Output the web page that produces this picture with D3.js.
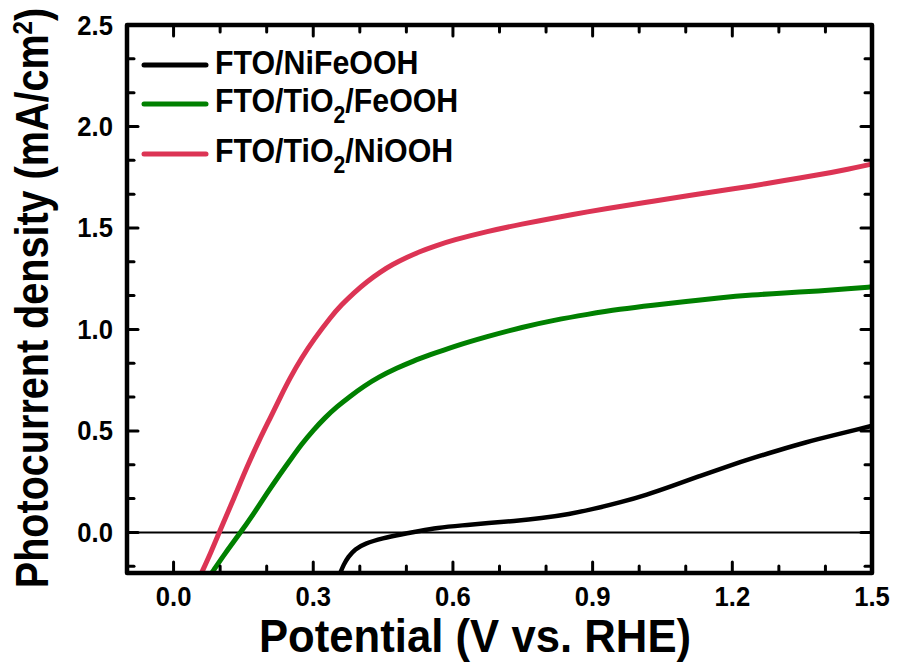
<!DOCTYPE html>
<html>
<head>
<meta charset="utf-8">
<script src="https://cdn.jsdelivr.net/npm/d3@7"></script>
<style>
  html, body { margin: 0; padding: 0; background: #fff; }
  svg { display: block; }
  text { font-family: "Liberation Sans", Arial, Helvetica, sans-serif; font-weight: bold; fill: #000; }
</style>
</head>
<body>
<svg id="chart" width="897" height="665"></svg>
<script>
// Photocurrent density vs. potential for three photoanodes
const seriesNames = ["FTO/NiFeOOH", "FTO/TiO2/FeOOH", "FTO/TiO2/NiOOH"];
const seriesColors = ["#000000", "#008000", "#DC3454"];

// FTO/NiFeOOH: [potential (V vs. RHE), current (mA/cm2)]
const niFeOOH = [
  [0.358,-0.2],[0.365,-0.16],[0.375,-0.12],[0.39,-0.082],[0.41,-0.055],[0.45,-0.028],
  [0.488,-0.01],[0.53,0.008],[0.564,0.022],[0.62,0.035],[0.677,0.046],[0.73,0.056],
  [0.79,0.07],[0.85,0.09],[0.903,0.116],[0.96,0.148],[1.017,0.186],[1.07,0.228],
  [1.13,0.278],[1.19,0.326],[1.243,0.366],[1.3,0.405],[1.356,0.443],[1.42,0.48],
  [1.477,0.512],[1.5,0.525]
];
// FTO/TiO2/FeOOH
const tiO2FeOOH = [
  [0.082,-0.2],[0.11,-0.105],[0.144,0.0],[0.17,0.085],[0.201,0.194],[0.225,0.275],
  [0.251,0.358],[0.275,0.435],[0.301,0.506],[0.325,0.565],[0.351,0.62],[0.38,0.672],
  [0.408,0.719],[0.44,0.765],[0.48,0.81],[0.515,0.845],[0.551,0.875],[0.6,0.915],
  [0.673,0.965],[0.75,1.012],[0.816,1.045],[0.89,1.075],[0.958,1.1],[1.03,1.12],
  [1.101,1.138],[1.17,1.155],[1.244,1.17],[1.31,1.18],[1.387,1.19],[1.45,1.2],[1.5,1.21]
];
// FTO/TiO2/NiOOH
const tiO2NiOOH = [
  [0.06,-0.2],[0.08,-0.1],[0.098,0.0],[0.13,0.17],[0.158,0.325],[0.185,0.46],
  [0.209,0.57],[0.23,0.67],[0.251,0.765],[0.275,0.86],[0.301,0.95],[0.337,1.06],
  [0.36,1.12],[0.387,1.18],[0.415,1.235],[0.444,1.283],[0.47,1.32],[0.501,1.355],
  [0.53,1.385],[0.56,1.41],[0.6,1.44],[0.673,1.483],[0.75,1.52],[0.816,1.549],
  [0.89,1.58],[0.958,1.606],[1.03,1.632],[1.101,1.658],[1.17,1.682],[1.244,1.707],
  [1.31,1.733],[1.387,1.762],[1.45,1.79],[1.5,1.815]
];

const xMajorTicks = [0.0, 0.3, 0.6, 0.9, 1.2, 1.5];
const xMinorTicks = [0.1, 0.2, 0.4, 0.5, 0.7, 0.8, 1.0, 1.1, 1.3, 1.4];
const yMajorTicks = [0.0, 0.5, 1.0, 1.5, 2.0, 2.5];
const yMinorTicks = [-1/6, 1/6, 2/6, 4/6, 5/6, 7/6, 8/6, 10/6, 11/6, 13/6, 14/6];

const svg = d3.select("#chart");
const box = { left: 127, right: 872, top: 25, bottom: 573 };

const x = d3.scaleLinear().domain([-0.1, 1.5]).range([box.left, box.right]);
const y = d3.scaleLinear().domain([-0.2, 2.5]).range([box.bottom, box.top]);

svg.append("defs").append("clipPath").attr("id", "plotClip")
  .append("rect")
  .attr("x", box.left).attr("y", box.top)
  .attr("width", box.right - box.left).attr("height", box.bottom - box.top);

const plot = svg.append("g").attr("clip-path", "url(#plotClip)");

// zero-current reference line
plot.append("line")
  .attr("x1", box.left).attr("x2", box.right)
  .attr("y1", y(0)).attr("y2", y(0))
  .attr("stroke", "#000").attr("stroke-width", 2);

const line = d3.line()
  .x(d => x(d[0])).y(d => y(d[1]))
  .curve(d3.curveBasis);

const allSeries = [niFeOOH, tiO2FeOOH, tiO2NiOOH];
// draw order: black, green, red
allSeries.forEach((data, i) => {
  plot.append("path")
    .datum(data)
    .attr("d", line)
    .attr("fill", "none")
    .attr("stroke", seriesColors[i])
    .attr("stroke-width", i === 0 ? 4.5 : 5)
    .attr("stroke-linejoin", "round")
    .attr("stroke-linecap", "butt");
});

// ticks on all four sides, pointing inward
const majorLen = 11, minorLen = 7;
const ticks = svg.append("g").attr("stroke", "#000").attr("stroke-width", 3).attr("stroke-linecap", "round");
function xTicks(vals, len) {
  vals.forEach(v => {
    ticks.append("line").attr("x1", x(v)).attr("x2", x(v)).attr("y1", box.bottom).attr("y2", box.bottom - len);
    ticks.append("line").attr("x1", x(v)).attr("x2", x(v)).attr("y1", box.top).attr("y2", box.top + len);
  });
}
function yTicks(vals, len) {
  vals.forEach(v => {
    ticks.append("line").attr("y1", y(v)).attr("y2", y(v)).attr("x1", box.left).attr("x2", box.left + len);
    ticks.append("line").attr("y1", y(v)).attr("y2", y(v)).attr("x1", box.right).attr("x2", box.right - len);
  });
}
xTicks(xMajorTicks, majorLen);
xTicks(xMinorTicks, minorLen);
yTicks(yMajorTicks, majorLen);
yTicks(yMinorTicks, minorLen);

// frame
svg.append("rect")
  .attr("x", box.left).attr("y", box.top)
  .attr("width", box.right - box.left).attr("height", box.bottom - box.top)
  .attr("fill", "none").attr("stroke", "#000").attr("stroke-width", 4.5)
  .attr("stroke-linejoin", "round");

// tick labels
const fmt = d3.format(".1f");
svg.append("g").selectAll("text").data(xMajorTicks).join("text")
  .attr("transform", d => `translate(${x(d)},606) scale(0.95,1)`)
  .attr("text-anchor", "middle")
  .style("font-size", "27px")
  .text(fmt);

svg.append("g").selectAll("text").data(yMajorTicks).join("text")
  .attr("transform", d => `translate(113,${y(d) + 9.5}) scale(0.95,1)`)
  .attr("text-anchor", "end")
  .style("font-size", "27px")
  .text(fmt);

// axis titles
svg.append("text")
  .attr("transform", "translate(475,652) scale(0.95,1)")
  .attr("text-anchor", "middle")
  .style("font-size", "46px")
  .text("Potential (V vs. RHE)");

const yTitle = svg.append("text")
  .attr("transform", "translate(48,298) rotate(-90) scale(0.86,1)")
  .attr("text-anchor", "middle")
  .style("font-size", "46px");
yTitle.append("tspan").text("Photocurrent density (mA/cm");
yTitle.append("tspan").attr("dy", -16).style("font-size", "28px").text("2");
yTitle.append("tspan").attr("dy", 16).text(")");

// legend
const legendRows = [
  { parts: [["FTO/NiFeOOH", false]], lineY: 65, baseY: 74 },
  { parts: [["FTO/TiO", false], ["2", true], ["/FeOOH", false]], lineY: 104, baseY: 112 },
  { parts: [["FTO/TiO", false], ["2", true], ["/NiOOH", false]], lineY: 154, baseY: 162 }
];
const legend = svg.append("g");
legendRows.forEach((row, i) => {
  legend.append("line")
    .attr("x1", 144).attr("x2", 206)
    .attr("y1", row.lineY).attr("y2", row.lineY)
    .attr("stroke", seriesColors[i]).attr("stroke-width", 5)
    .attr("stroke-linecap", "round");
  const t = legend.append("text")
    .attr("transform", `translate(215,${row.baseY}) scale(0.92,1)`)
    .style("font-size", "33px");
  let shifted = false;
  row.parts.forEach(([s, sub]) => {
    const ts = t.append("tspan").text(s);
    if (sub) { ts.attr("dy", 11).style("font-size", "23px"); shifted = true; }
    else if (shifted) { ts.attr("dy", -11); shifted = false; }
  });
});
</script>
</body>
</html>
